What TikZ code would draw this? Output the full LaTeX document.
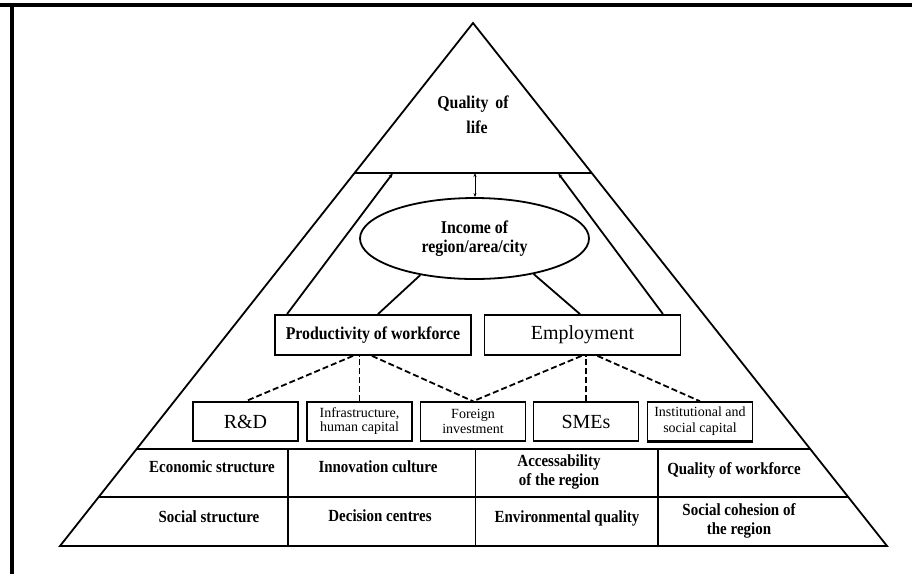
\documentclass[tikz,border=0pt]{standalone}
\usepackage{fontspec}
\setmainfont{Liberation Serif}[BoldFeatures={FakeStretch=0.88}]
\usetikzlibrary{shapes.geometric,arrows.meta,calc}

\tikzset{
  midbox/.style={draw, line width=1.8pt, minimum width=196pt, minimum height=40pt, inner sep=0pt},
  factorbox/.style={draw, line width=1.5pt, minimum width=105pt, minimum height=39pt, inner sep=0pt, align=center},
  celltext/.style={font=\bfseries\fontsize{17}{19}\selectfont, align=center},
  dashlink/.style={line width=1.8pt, dash pattern=on 6pt off 3pt},
  uplink/.style={line width=1.8pt, -{Stealth[length=5pt,width=3.5pt]}},
}

\begin{document}
\begin{tikzpicture}[x=1pt,y=-1pt]
	\useasboundingbox (0,0) rectangle (912,574);
	% frame
	\fill (0,3) rectangle (912,7);
	\fill (10,3) rectangle (14,574);

	% pyramid
	\coordinate (apex) at (473,23);
	\coordinate (bl) at (60,546);
	\coordinate (br) at (887,546);
	\draw[line width=1.8pt] (apex) -- (bl) -- (br) -- cycle;
	\draw[line width=2.4pt] ($(apex)!0.2868!(bl)$) -- ($(apex)!0.2868!(br)$);
	\draw[line width=1.8pt] ($(apex)!0.8145!(bl)$) -- ($(apex)!0.8145!(br)$);
	\draw[line width=1.8pt] ($(apex)!0.9063!(bl)$) -- ($(apex)!0.9063!(br)$);
	\coordinate (sepA) at (393,173);
	\coordinate (sepB) at (558,173);
	\coordinate (sepM) at (475,173);

	\node[font=\bfseries\fontsize{18}{25}\selectfont, align=center] (qol) at (473,115) {Quality\, of\\\hspace*{8pt}life};

	% income and its two drivers
	\node[ellipse, draw, line width=1.8pt, minimum width=229pt, minimum height=81pt, inner sep=0pt,
		align=center, font=\bfseries\fontsize{18}{19}\selectfont] (income) at (474.5,238.5) {Income of\\region/area/city};
	\draw[line width=0.9pt, {Stealth[length=4pt,width=3pt]}-{Stealth[length=4pt,width=3pt]}] (income.north -| sepM) -- (sepM);

	\node[midbox, font=\bfseries\fontsize{18}{19}\selectfont] (prod) at (373,335) {Productivity of workforce};
	\node[midbox, font=\fontsize{20}{24}\selectfont] (empl) at (582.5,335) {Employment};

	\draw[uplink] ([xshift=-86pt]prod.north) -- (sepA);
	\draw[line width=1.8pt] ([xshift=5pt]prod.north) -- (income.214);
	\draw[line width=1.8pt] ([xshift=-2.5pt]empl.north) -- (income.329);
	\draw[uplink] ([xshift=80.5pt]empl.north) -- (sepB);

	% factors
	\node[factorbox, font=\fontsize{20}{24}\selectfont] (rd) at (245.5,421.5) {R\&D};
	\node[factorbox, font=\fontsize{14}{14}\selectfont] (infra) at (359.5,421.5) {Infrastructure,\\human capital};
	\node[factorbox, font=\fontsize{14}{15}\selectfont] (foreign) at (473,421.5) {Foreign\\investment};
	\node[factorbox, font=\fontsize{20}{24}\selectfont] (smes) at (586,421.5) {SMEs};
	\node[factorbox, font=\fontsize{14}{16}\selectfont] (inst) at (700,421.5) {Institutional and\\social capital};
	\draw[line width=2.8pt] (inst.south west) -- (inst.south east);

	\draw[dashlink] ([xshift=-20pt]prod.south) -- (rd.north);
	\draw[dashlink] (infra.north) -- (infra.north |- prod.south);
	\draw[dashlink] ([xshift=-1pt]prod.south) -- (foreign.north);
	\draw[dashlink] ([xshift=-1pt]empl.south) -- (foreign.north);
	\draw[dashlink] (smes.north) -- (smes.north |- empl.south);
	\draw[dashlink] ([xshift=15pt]empl.south) -- (inst.north);

	% base table
	\draw[line width=1.8pt] (288,449) -- (288,546);
	\draw[line width=0.8pt] (475,449) -- (475,546);
	\draw[line width=1.8pt] (658,449) -- (658,546);

	\node[celltext] (econ) at (212,467) {Economic structure};
	\node[celltext] (innov) at (378,467) {Innovation culture};
	\node[celltext] (access) at (559,472) {Accessability\\of the region};
	\node[celltext] (qwork) at (734,470) {Quality of workforce};
	\node[celltext] (social) at (209,517) {Social structure};
	\node[celltext] (decision) at (380,516) {Decision centres};
	\node[celltext] (environ) at (567,518) {Environmental quality};
	\node[celltext] (cohesion) at (739,521) {Social cohesion of\\the region};
\end{tikzpicture}
\end{document}
